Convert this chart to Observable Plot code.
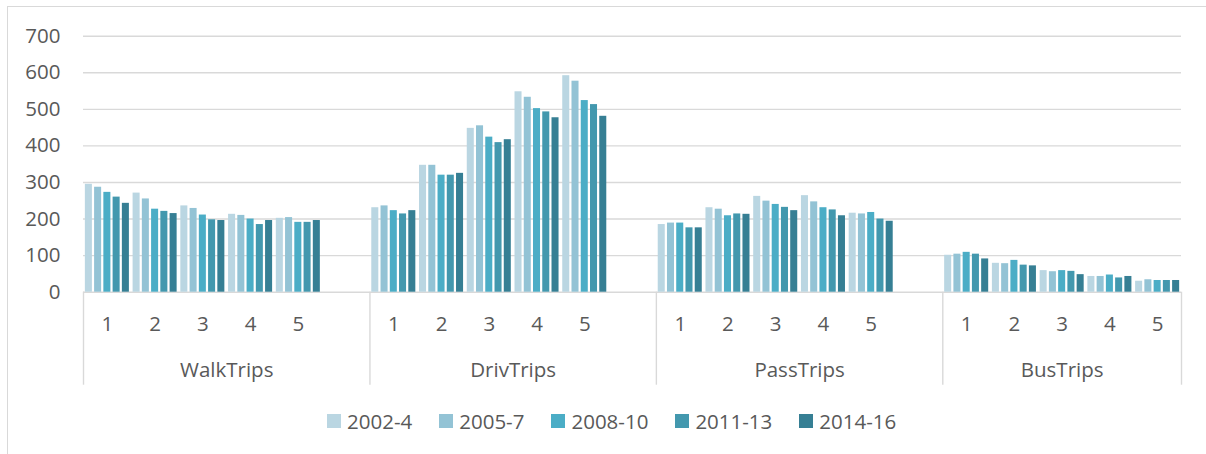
<!DOCTYPE html>
<html>
<head>
<meta charset="utf-8">
<script src="https://cdn.jsdelivr.net/npm/d3@7"></script>
<script src="https://cdn.jsdelivr.net/npm/@observablehq/plot@0.6"></script>
<style>
  html, body { margin: 0; padding: 0; background: #fff; }
  #page { position: relative; width: 1206px; height: 454px; overflow: hidden; font-family: "Open Sans", Lato, sans-serif; }
  #frame { position: absolute; left: 6.5px; top: 6px; width: 1210px; height: 460px;
           border-left: 1.4px solid #d9d9d9; border-top: 1.4px solid #d9d9d9; }
  #chart { position: absolute; left: 0; top: 0; }
  #legend { position: absolute; left: 327px; top: 407px; display: flex; align-items: center;
            gap: 27px; font-size: 20.5px; color: #595959; line-height: 28px; white-space: nowrap; }
  #legend .item { display: flex; align-items: center; gap: 6px; }
  #legend .sw { width: 14px; height: 14px; display: inline-block; }
</style>
</head>
<body>
<div id="page">
  <div id="frame"></div>
  <div id="chart"></div>
  <div id="legend"></div>
</div>
<script>
// Trip counts by mode (group), band 1–5 and survey period
const groups = ["WalkTrips", "DrivTrips", "PassTrips", "BusTrips"];
const bands = ["1", "2", "3", "4", "5"];
const periods = ["2002-4", "2005-7", "2008-10", "2011-13", "2014-16"];
const colors = ["#bad6e2", "#93c3d5", "#4badc6", "#4398ae", "#367f94"];

// one row per band, one value per period
const walkTrips = [[295, 287, 273, 260, 243], [271, 255, 227, 221, 215], [236, 229, 211, 198, 196], [213, 210, 200, 185, 196], [202, 204, 191, 191, 196]];
const drivTrips = [[231, 236, 223, 214, 223], [347, 347, 320, 320, 325], [448, 455, 424, 409, 417], [548, 533, 502, 493, 477], [592, 577, 524, 513, 481]];
const passTrips = [[185, 189, 189, 176, 176], [231, 227, 209, 214, 213], [262, 249, 240, 232, 223], [264, 247, 231, 225, 209], [216, 214, 218, 200, 194]];
const busTrips = [[101, 104, 109, 104, 91], [79, 78, 87, 74, 72], [59, 56, 59, 57, 48], [43, 43, 47, 39, 43], [30, 34, 32, 32, 32]];
const yTicks = [0, 100, 200, 300, 400, 500, 600, 700];

const series = [walkTrips, drivTrips, passTrips, busTrips];

// Category slots: each group has one slot per band plus an empty spacer slot (none after the last group)
const slotsPerGroup = bands.length + 1;
const groupStart = groups.map((g, i) => i * slotsPerGroup);
const groupEnd = groups.map((g, i) => groupStart[i] + (i === groups.length - 1 ? bands.length : slotsPerGroup));
const totalSlots = groupEnd[groupEnd.length - 1];

// position of each period's bar within a slot (slot units)
const inner = d3.scaleBand().domain(periods).range([0, 1]).paddingInner(0.24).paddingOuter(0.2);

const rows = [];
series.forEach((grid, gi) => {
  grid.forEach((vals, bi) => {
    vals.forEach((v, pi) => {
      const s = groupStart[gi] + bi;
      rows.push({
        group: groups[gi], band: bands[bi], period: periods[pi], value: v,
        x1: s + inner(periods[pi]), x2: s + inner(periods[pi]) + inner.bandwidth()
      });
    });
  });
});

// tick positions for the two-level category axis
const bandTicks = [], bandLabel = new Map();
groups.forEach((g, gi) => bands.forEach((b, bi) => {
  const c = groupStart[gi] + bi + 0.5;
  bandTicks.push(c); bandLabel.set(c, b);
}));
const groupTicks = groups.map((g, i) => (groupStart[i] + groupEnd[i]) / 2);
const groupLabel = new Map(groupTicks.map((t, i) => [t, groups[i]]));
const dividers = [...groupStart, totalSlots];

const grey = "#d9d9d9", ink = "#595959", fs = 20.5;

const chart = Plot.plot({
  width: 1206,
  height: 400,
  marginLeft: 83,
  marginRight: 25,
  marginTop: 35.7,
  marginBottom: 108.3,
  style: { fontFamily: "'Open Sans', Lato, sans-serif", fontSize: fs + "px", color: ink, background: "transparent" },
  x: { type: "linear", domain: [0, totalSlots] },
  y: { domain: [0, 700] },
  color: { domain: periods, range: colors },
  marks: [
    Plot.gridY(yTicks, { stroke: grey, strokeOpacity: 1, strokeWidth: 1.4 }),
    Plot.axisY({ ticks: yTicks, tickSize: 0, tickPadding: 23, fontSize: fs, fill: ink, label: null }),
    Plot.rectY(rows, { x1: "x1", x2: "x2", y: "value", fill: "period" }),
    Plot.axisX({ ticks: dividers, tickSize: 93, tickFormat: () => "", stroke: grey, strokeWidth: 1.4, label: null }),
    Plot.axisX({ ticks: bandTicks, tickSize: 0, tickPadding: 24, tickFormat: d => bandLabel.get(d), fontSize: fs, fill: ink, label: null }),
    Plot.axisX({ ticks: groupTicks, tickSize: 0, tickPadding: 70, tickFormat: d => groupLabel.get(d), fontSize: fs, fill: ink, label: null })
  ]
});
document.getElementById("chart").appendChild(chart);

// legend
const legend = document.getElementById("legend");
periods.forEach((p, i) => {
  const item = document.createElement("span");
  item.className = "item";
  const sw = document.createElement("span");
  sw.className = "sw";
  sw.style.background = colors[i];
  const label = document.createElement("span");
  label.textContent = p;
  item.append(sw, label);
  legend.appendChild(item);
});
</script>
</body>
</html>
